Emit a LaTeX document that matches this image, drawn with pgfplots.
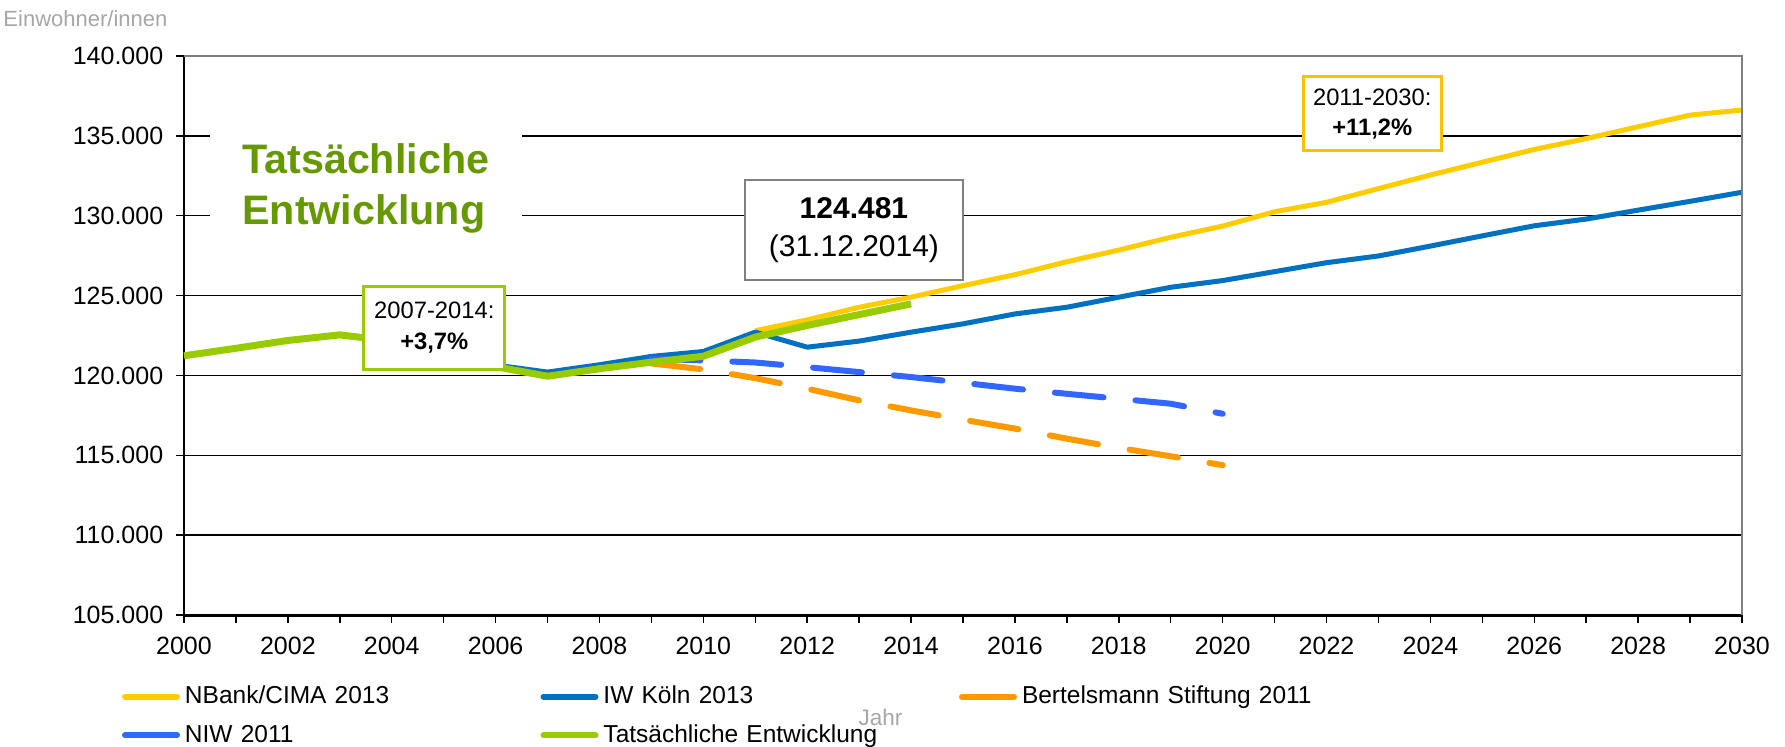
\documentclass[border=0pt]{standalone}
\usepackage{fontspec}
\setmainfont{Liberation Sans}
\usepackage{pgfplots}
\pgfplotsset{compat=1.18}
\definecolor{nbank}{HTML}{FFCC00}
\definecolor{iwk}{HTML}{0070C0}
\definecolor{bert}{HTML}{FF9900}
\definecolor{niw}{HTML}{3366FF}
\definecolor{actual}{HTML}{99CC00}
\definecolor{darkgreen}{HTML}{669900}
\definecolor{boxgray}{HTML}{808080}
\definecolor{gold}{HTML}{FFC000}
\definecolor{lbl}{HTML}{A6A6A6}

\begin{document}
\begin{tikzpicture}
\begin{axis}[
  scale only axis, width=623.2pt, height=223.6pt,
  xmin=2000, xmax=2030, ymin=105000, ymax=140000,
  xtick={2000,2002,...,2030}, minor xtick={2001,2003,...,2029},
  ytick={105000,110000,...,140000},
  scaled y ticks=false,
  axis lines=left, axis line style={-},
  x axis line style={line width=1.2pt},
  y axis line style={line width=0.8pt},
  ymajorgrids, grid style={black, line width=0.6pt},
  tick align=outside, major tick length=3.2pt, minor tick length=3.2pt,
  tick style={black, line width=0.6pt},
  /pgf/number format/assume math mode=true,
  xticklabel style={/pgf/number format/1000 sep={}, font=\fontsize{10}{12}\selectfont, yshift=-2pt},
  yticklabel style={/pgf/number format/.cd, fixed, 1000 sep={.}, /tikz/.cd, font=\fontsize{10}{12}\selectfont, xshift=-1.6pt},
  no markers, clip=false,
  legend columns=3,
  legend image code/.code={\draw[#1, solid, line width=2.4pt, line cap=round] (0pt,0pt) -- (20.8pt,0pt);},
  legend style={at={(0,0)}, anchor=north west, xshift=-25pt, yshift=-26.2pt,
    draw=none, fill=none, inner sep=0pt, row sep=3pt,
    font=\fontsize{9.8}{11}\selectfont,
    cells={anchor=west, inner xsep=2pt, inner ysep=0pt, text height=7pt, text depth=2pt, text width=140.2pt}},
]
\addplot[color=nbank, line width=2pt, line join=round] coordinates {
(2011,122800) (2012,123480) (2013,124270) (2014,124900) (2015,125620)
(2016,126310) (2017,127120) (2018,127850) (2019,128650) (2020,129350)
(2021,130250) (2022,130840) (2023,131700) (2024,132550) (2025,133350)
(2026,134150) (2027,134830) (2028,135570) (2029,136300) (2030,136620)};
\addlegendentry{NBank/CIMA 2013}
\addplot[color=iwk, line width=2pt, line join=round] coordinates {
(2005,121350) (2006,120650) (2007,120210) (2008,120670) (2009,121190) (2010,121500)
(2011,122710) (2012,121770) (2013,122150) (2014,122710) (2015,123230)
(2016,123850) (2017,124270) (2018,124900) (2019,125520) (2020,125940)
(2021,126500) (2022,127060) (2023,127480) (2024,128100) (2025,128740)
(2026,129370) (2027,129790) (2028,130350) (2029,130900) (2030,131470)};
\addlegendentry{IW Köln 2013}
\addplot[color=bert, line width=2.4pt, line cap=round, line join=round, dash pattern=on 19.6pt off 12.8pt] coordinates {
(2009,120750) (2010,120380) (2011,119830) (2012,119170) (2013,118440)
(2014,117810) (2015,117230) (2016,116670) (2017,116040) (2018,115460)
(2019,114940) (2020,114380)};
\addlegendentry{Bertelsmann Stiftung 2011}
\addplot[color=niw, line width=2.4pt, line cap=round, line join=round, dash pattern=on 19.6pt off 12.8pt] coordinates {
(2009,121050) (2010,120940) (2011,120810) (2012,120520) (2013,120210)
(2014,119900) (2015,119540) (2016,119170) (2017,118850) (2018,118540)
(2019,118230) (2020,117600)};
\addlegendentry{NIW 2011}
\addplot[color=actual, line width=2.8pt, line join=round] coordinates {
(2000,121230) (2001,121700) (2002,122190) (2003,122540) (2004,122150)
(2005,121350) (2006,120550) (2007,119950) (2008,120420) (2009,120830)
(2010,121200) (2011,122400) (2012,123130) (2013,123810) (2014,124481)};
\addlegendentry{Tatsächliche Entwicklung}

\draw[boxgray, line width=0.6pt] (rel axis cs:0,1) -- (rel axis cs:1,1) -- (rel axis cs:1,0);

\node[fill=white, text=darkgreen, align=left, inner xsep=13pt, inner ysep=4pt,
  font=\bfseries\fontsize{16.5}{20.5}\selectfont] at (axis cs:2003.5,131700) {Tatsächliche\\Entwicklung};
\node[draw=boxgray, line width=0.8pt, fill=white, minimum width=87.2pt, minimum height=40pt,
  align=center, font=\fontsize{12}{15.3}\selectfont] at (axis cs:2012.9,129106) {\textbf{124.481}\\(31.12.2014)};
\node[draw=actual, line width=1.2pt, fill=white, minimum width=56.4pt, minimum height=33.2pt,
  align=center, font=\fontsize{9.5}{12.3}\selectfont] at (axis cs:2004.82,123000) {2007-2014:\\\textbf{+3,7\%}};
\node[draw=gold, line width=1.2pt, fill=white, minimum width=55.2pt, minimum height=29.6pt,
  align=center, font=\fontsize{9.5}{12.3}\selectfont] at (axis cs:2022.88,136370) {2011-2030:\\\textbf{+11,2\%}};
\end{axis}
\node[lbl, anchor=west, inner sep=0pt, font=\fontsize{8.8}{10}\selectfont] at (-72.4pt,238.4pt) {Einwohner/innen};
\node[lbl, inner sep=0pt, font=\fontsize{9}{10}\selectfont] at (278.6pt,-40.8pt) {Jahr};
\pgfresetboundingbox
\path[use as bounding box] (-73.6pt,-52.4pt) rectangle (640.4pt,246pt);
\end{tikzpicture}
\end{document}
